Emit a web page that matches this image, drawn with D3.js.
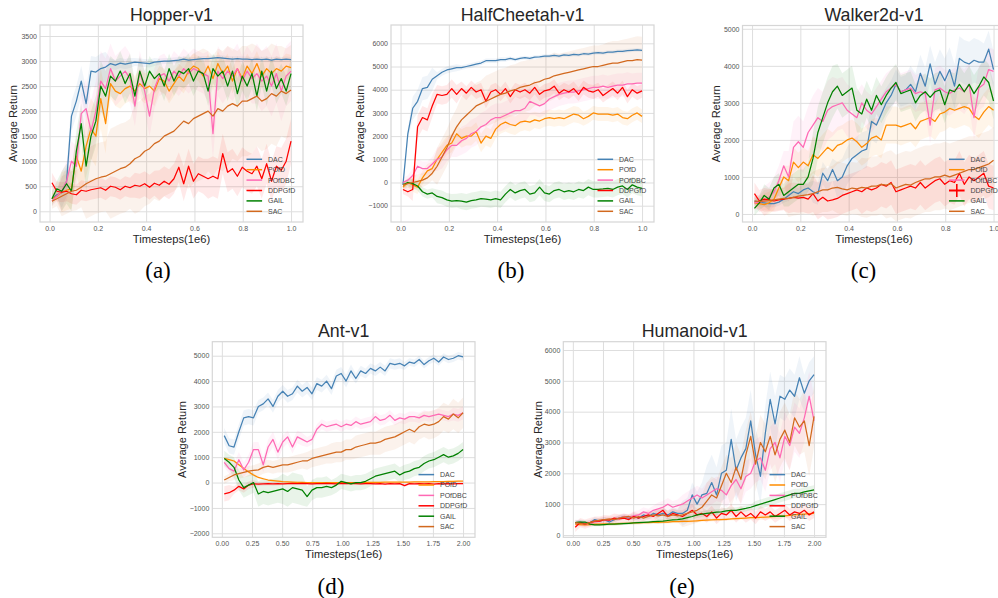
<!DOCTYPE html>
<html><head><meta charset="utf-8">
<script src="https://cdn.jsdelivr.net/npm/d3@7"></script>
<style>body{margin:0;background:#fff} svg{display:block}</style>
</head><body>
<svg id="chart" width="998" height="598"></svg>
<script>
// ---------- categories / ticks ----------
const methods = ["DAC", "POfD", "POfDBC", "DDPGfD", "GAIL", "SAC"];
const methodColors = ["#4682b4", "#ff8c00", "#ff69b4", "#ff0000", "#008000", "#d2691e"];
const xTicks1M = [0, 0.2, 0.4, 0.6, 0.8, 1.0];
const xTicks2M = [0, 0.25, 0.5, 0.75, 1.0, 1.25, 1.5, 1.75, 2.0];
const hopperYTicks = [0, 500, 1000, 1500, 2000, 2500, 3000, 3500];
const cheetahYTicks = [-1000, 0, 1000, 2000, 3000, 4000, 5000, 6000];
const walkerYTicks = [0, 1000, 2000, 3000, 4000, 5000];
const antYTicks = [-2000, -1000, 0, 1000, 2000, 3000, 4000, 5000];
const humanoidYTicks = [0, 1000, 2000, 3000, 4000, 5000, 6000];

// ---------- Hopper-v1 (mean returns, 0.01 .. 1.0 ×1e6) ----------
const hopper_DAC = [250,330,370,600,1900,2200,2600,2150,2800,2780,2850,2880,2950,2920,2960,2940,2960,2980,2970,2960,2950,2980,2990,3000,3000,3010,3020,3040,3020,3030,3040,3050,3050,3060,3070,3060,3050,3040,3050,3040,3040,3030,3040,3030,3040,3020,3040,3030,3040,3030];
const hopper_POfD = [250,300,380,420,450,1100,800,1300,1650,1500,2250,1750,2550,2400,2350,2450,2500,2400,2550,2450,2500,2400,2650,2600,2400,2550,2700,2600,2800,2900,2850,2700,2900,2650,2950,2750,2900,2600,2850,2650,2900,2750,2950,2700,2850,2750,2850,2800,2900,2870];
const hopper_POfDBC = [200,300,400,600,1000,900,1950,2050,1600,2000,2600,2450,2850,2600,2700,2800,2650,2100,2800,2400,1900,2450,2700,2750,2600,2800,2700,2850,2750,2850,2800,2750,2700,1550,2800,2650,2800,2700,2850,2600,2800,2650,2750,2600,2700,2500,2750,2400,2700,2800];
const hopper_DDPGfD = [570,400,380,400,350,330,420,400,430,450,470,420,500,480,430,500,470,520,500,550,480,560,520,600,540,650,880,550,900,600,750,700,650,700,650,1150,780,850,700,880,800,750,900,650,950,600,900,820,1000,1400];
const hopper_GAIL = [250,450,400,550,400,1200,1750,900,1500,1800,2500,2300,2700,2600,2800,2550,2750,2300,2800,2500,2800,2650,2750,2500,2850,2600,2800,2750,2850,2600,2800,2750,2400,2850,2700,2800,2500,2800,2350,2700,2500,2750,2300,2800,2400,2800,2450,2650,2400,2750];
const hopper_SAC = [200,250,300,350,400,420,480,550,600,650,680,700,750,800,850,880,950,1050,1100,1200,1250,1350,1400,1500,1550,1600,1700,1800,1750,1850,1900,1950,2000,1900,2050,2000,2100,2150,2100,2200,2200,2250,2300,2200,2250,2350,2300,2400,2350,2420];
// spread (half band width) read at every tenth of the x range
const hopper_DAC_sd = [50,300,300,100,80,60,50,50,50,50,50];
const hopper_POfD_sd = [100,400,600,300,300,250,250,250,250,250,250];
const hopper_POfDBC_sd = [100,400,600,500,400,400,400,500,500,600,600];
const hopper_DDPGfD_sd = [200,200,200,200,250,300,350,400,400,400,450];
const hopper_GAIL_sd = [150,400,500,400,300,300,300,300,300,300,300];
const hopper_SAC_sd = [150,400,700,900,1100,1200,1300,1200,1100,1000,900];

// ---------- HalfCheetah-v1 ----------
const cheetah_DAC = [-100,2100,3200,3500,4050,4100,4450,4600,4750,4850,4900,4950,4950,5000,5050,5100,5150,5250,5250,5250,5300,5300,5350,5300,5350,5380,5350,5400,5420,5450,5450,5480,5450,5500,5480,5520,5500,5550,5530,5580,5600,5580,5620,5620,5650,5650,5680,5700,5720,5700];
const cheetah_POfD = [-200,0,-100,-200,200,500,600,1000,1300,1600,1700,2100,1900,2000,2000,2200,1700,2000,1900,2300,2500,2600,2500,2450,2600,2650,2600,2700,2650,2750,2800,2750,2800,2750,2850,2950,2900,2750,2850,3000,2950,2950,2950,2900,2950,2800,2750,2900,3000,2850];
const cheetah_POfDBC = [0,100,300,700,600,600,800,1000,1100,1400,1600,1600,1800,1900,2100,2200,2400,2500,2700,2800,2800,2900,3000,3100,3100,3200,3500,3400,3300,3400,3600,3700,3800,3850,3900,3900,3950,4000,4050,4100,4100,4150,4100,4150,4200,4200,4250,4250,4280,4280];
const cheetah_DDPGfD = [-300,-400,-300,2400,2800,2700,3300,3800,3750,3800,4050,3800,4050,3850,4100,3900,4000,3500,3900,4000,3800,4050,3700,4000,3900,4000,3850,4100,3800,3950,4000,4150,3850,4000,3900,4050,3800,4100,3950,3900,4000,3750,3900,4050,3850,4100,3700,4000,3850,3950];
const cheetah_GAIL = [-100,0,-50,-150,-400,-500,-450,-600,-650,-750,-800,-780,-800,-850,-780,-750,-700,-720,-750,-700,-750,-500,-300,-450,-350,-300,-500,-450,-200,-450,-500,-350,-300,-400,-350,-400,-300,-350,-200,-300,-300,-280,-250,-300,-200,-150,-300,-100,-200,-250];
const cheetah_SAC = [-100,-50,0,50,100,200,400,700,1100,1500,2000,2400,2700,2900,3100,3300,3400,3500,3600,3700,3800,3850,3950,4000,4100,4150,4200,4300,4350,4450,4500,4600,4650,4700,4750,4800,4850,4900,4950,5000,5000,5050,5100,5150,5150,5200,5250,5250,5300,5280];
const cheetah_DAC_sd = [200,500,150,100,100,80,80,80,80,80,80];
const cheetah_POfD_sd = [200,300,400,400,400,400,350,350,300,300,300];
const cheetah_POfDBC_sd = [200,300,500,600,600,600,500,500,500,500,450];
const cheetah_DDPGfD_sd = [200,500,400,300,300,300,300,300,300,300,300];
const cheetah_GAIL_sd = [150,200,300,350,350,350,350,350,350,350,350];
const cheetah_SAC_sd = [150,300,800,1000,1100,1100,1000,900,900,950,1000];

// ---------- Walker2d-v1 ----------
const walker_DAC = [350,320,300,280,280,320,400,500,600,550,650,700,600,550,1100,900,1200,900,1000,1300,1500,1600,1700,1750,2500,2400,2700,3000,3200,3500,3300,3350,3500,3300,3800,3450,4050,3500,3850,3600,3900,3450,4200,4100,4050,4150,4100,4100,4450,3900];
const walker_POfD = [300,280,250,300,400,700,1000,900,1400,1250,1400,1300,1600,1500,1650,1800,1700,1850,1900,2000,2050,1950,1800,1900,2050,2100,2000,2400,2400,2400,2350,2400,2450,2300,2500,2550,2600,2500,2700,2750,2850,2800,2850,2900,2850,2650,2550,2750,2900,2800];
const walker_POfDBC = [300,320,350,450,600,900,1300,1000,1800,1950,1800,2200,2400,2600,2500,2800,2900,2950,3000,2800,2700,2600,3000,2800,2700,2900,3100,3300,3400,3500,3300,3350,3400,3250,3300,3250,2400,3350,3400,3300,3250,3350,3400,3300,3500,2600,3400,3500,3900,3850];
const walker_DDPGfD = [550,350,400,380,350,380,400,420,450,430,450,400,550,350,450,350,380,420,500,550,600,650,600,700,650,700,800,750,850,600,650,700,750,700,850,700,800,900,950,800,900,850,1100,800,1000,900,1000,1100,750,700];
const walker_GAIL = [150,300,500,400,700,800,500,600,700,800,800,1000,1500,2200,2600,3000,3300,3450,3200,3300,3400,2800,2700,3100,2800,3200,2950,3200,3400,3550,3250,3300,3350,3000,3200,3300,3150,3300,3350,2950,3350,3300,3500,3300,3500,3250,3450,3700,3550,3050];
const walker_SAC = [350,340,350,360,380,400,420,420,450,480,500,520,550,600,650,650,700,720,680,650,700,680,720,700,750,750,800,780,820,700,750,800,780,850,900,950,950,1000,1000,1050,1000,1050,1100,1150,1200,1200,1250,1300,1350,1450];
const walker_DAC_sd = [100,100,150,300,500,500,400,500,600,600,500];
const walker_POfD_sd = [150,300,400,500,500,500,500,500,500,500,500];
const walker_POfDBC_sd = [200,400,700,800,700,500,500,500,600,600,600];
const walker_DDPGfD_sd = [300,300,400,500,500,600,600,600,600,600,600];
const walker_GAIL_sd = [200,300,400,700,600,500,500,500,500,500,500];
const walker_SAC_sd = [150,300,500,600,700,800,900,900,900,900,900];

// ---------- Ant-v1 (0.02 .. 2.0 ×1e6) ----------
const ant_DAC = [1850,1450,1400,2000,2550,2600,2550,3000,3100,3300,3000,3400,3600,3400,3500,3800,3600,3750,3500,3900,3800,4000,3700,4200,4300,4000,4400,4100,4400,4300,4500,4400,4550,4400,4700,4650,4700,4600,4750,4700,4850,4650,4800,4900,4750,4950,4850,4900,5000,4950];
const ant_POfD = [950,900,850,700,550,420,300,200,150,100,80,60,40,30,20,10,10,0,0,0,0,0,0,0,0,0,0,0,0,10,10,10,10,20,20,20,20,20,20,30,30,30,30,40,40,40,50,50,60,60];
const ant_POfDBC = [800,550,450,900,500,800,1300,1300,700,1400,1700,1200,1600,1800,1400,1800,1700,1600,1700,2100,2300,2200,2250,2300,2200,2300,2250,2400,2300,2350,2400,2600,2450,2500,2650,2450,2550,2500,2600,2600,2550,2650,2600,2650,2700,2650,2600,2700,2650,2750];
const ant_DDPGfD = [-450,-400,-300,-150,-250,-100,-50,-60,-50,-40,-50,-40,-50,-40,-30,-40,-30,-40,-50,-40,-40,-30,-40,-50,-30,-40,-30,-40,-50,-40,-40,-50,-40,-60,-40,-50,-40,-120,-40,-50,-40,-50,-40,-60,-40,-50,-40,-50,-40,-40];
const ant_GAIL = [950,800,600,100,-200,-100,0,-450,-350,-400,-350,-300,-250,-350,-200,-250,-300,-550,-300,-200,-200,-150,-200,-100,50,0,-50,0,0,50,150,250,300,350,400,450,300,400,450,550,600,750,850,900,1000,1100,1000,1050,1150,1300];
const ant_SAC = [100,200,300,350,400,450,480,500,600,650,600,650,700,700,750,800,850,850,950,1000,1050,1100,1150,1200,1200,1300,1300,1400,1450,1500,1550,1550,1600,1700,1750,1800,1900,2000,2100,2000,2200,2300,2250,2300,2400,2600,2500,2700,2550,2750];
const ant_DAC_sd = [300,300,250,250,250,250,200,200,150,150,150];
const ant_POfD_sd = [50,50,50,30,30,30,30,30,30,30,30];
const ant_POfDBC_sd = [200,300,300,250,200,200,200,200,200,200,250];
const ant_DDPGfD_sd = [300,150,80,50,50,50,50,50,50,50,50];
const ant_GAIL_sd = [300,400,500,600,400,300,300,300,300,300,300];
const ant_SAC_sd = [150,200,250,300,350,400,450,500,500,550,600];

// ---------- Humanoid-v1 ----------
const humanoid_DAC = [400,420,380,400,500,450,500,420,500,550,600,550,600,550,650,600,700,650,700,650,750,700,700,800,1300,1000,1300,1350,1700,1300,2000,2100,3100,2100,2500,2800,3700,2600,1900,3300,4400,3600,4500,4400,4700,4500,5100,4600,5000,5200];
const humanoid_POfD = [350,340,330,340,350,350,360,350,360,370,380,380,390,390,400,400,410,410,420,420,430,430,440,440,450,460,470,480,490,500,500,510,520,530,540,550,560,560,570,580,590,600,610,620,640,650,670,680,690,700];
const humanoid_POfDBC = [400,380,350,380,420,450,500,480,520,550,600,580,620,650,750,700,800,850,900,1000,900,950,1000,1100,1200,1300,1200,1300,1400,1500,1450,1300,1600,1800,1500,1900,2000,2400,2500,2100,2800,3000,2500,3200,2900,3500,3300,3800,4500,3700];
const humanoid_DDPGfD = [250,400,350,400,450,450,500,480,550,520,550,500,600,550,600,650,600,700,800,600,700,650,600,700,800,650,700,600,750,550,700,650,800,600,750,600,700,550,750,650,750,600,700,800,650,750,700,800,650,750];
const humanoid_GAIL = [400,420,420,350,330,330,340,350,350,360,370,380,390,400,410,420,430,440,450,470,490,500,520,560,600,650,680,700,720,740,750,780,800,800,830,860,900,950,1000,1050,1100,1150,1200,1250,1300,1350,1350,1400,1430,1460];
const humanoid_SAC = [400,380,350,400,450,480,500,520,500,550,580,600,550,600,550,600,650,620,650,600,650,620,650,700,750,800,900,1100,1300,1200,1600,2000,1700,2200,1800,2600,3200,2300,3000,2700,3200,2600,3100,3400,3000,3800,3500,3700,2900,3850];
const humanoid_DAC_sd = [80,80,80,100,150,400,900,1000,900,700,600];
const humanoid_POfD_sd = [50,50,50,50,50,50,50,50,80,80,80];
const humanoid_POfDBC_sd = [100,100,100,150,200,300,400,500,700,800,800];
const humanoid_DDPGfD_sd = [150,150,150,150,150,200,200,200,200,200,200];
const humanoid_GAIL_sd = [50,50,50,50,80,100,100,100,150,150,150];
const humanoid_SAC_sd = [80,80,80,100,200,400,600,800,900,900,1000];

// ---------- layout ----------
const panels = [
  {title: "Hopper-v1", tag: "(a)", left: 40, top: 25, w: 263, h: 197, xmax: 1, yDom: [-214, 3720],
   yTicks: hopperYTicks, xTicks: xTicks1M, xFmt: ".1f", yLabX: 16.5, tagX: 158, tagY: 277.5,
   mean: [hopper_DAC, hopper_POfD, hopper_POfDBC, hopper_DDPGfD, hopper_GAIL, hopper_SAC],
   sd: [hopper_DAC_sd, hopper_POfD_sd, hopper_POfDBC_sd, hopper_DDPGfD_sd, hopper_GAIL_sd, hopper_SAC_sd]},
  {title: "HalfCheetah-v1", tag: "(b)", left: 391, top: 25, w: 263, h: 197, xmax: 1, yDom: [-1703, 6789],
   yTicks: cheetahYTicks, xTicks: xTicks1M, xFmt: ".1f", yLabX: 363.5, tagX: 511, tagY: 277.5,
   mean: [cheetah_DAC, cheetah_POfD, cheetah_POfDBC, cheetah_DDPGfD, cheetah_GAIL, cheetah_SAC],
   sd: [cheetah_DAC_sd, cheetah_POfD_sd, cheetah_POfDBC_sd, cheetah_DDPGfD_sd, cheetah_GAIL_sd, cheetah_SAC_sd]},
  {title: "Walker2d-v1", tag: "(c)", left: 742.5, top: 25.5, w: 263, h: 196.5, xmax: 1, yDom: [-217, 5089],
   yTicks: walkerYTicks, xTicks: xTicks1M, xFmt: ".1f", yLabX: 720, tagX: 863.5, tagY: 277.5, plusMarker: true,
   mean: [walker_DAC, walker_POfD, walker_POfDBC, walker_DDPGfD, walker_GAIL, walker_SAC],
   sd: [walker_DAC_sd, walker_POfD_sd, walker_POfDBC_sd, walker_DDPGfD_sd, walker_GAIL_sd, walker_SAC_sd]},
  {title: "Ant-v1", tag: "(d)", left: 212.3, top: 341.7, w: 262.7, h: 195.6, xmax: 2, yDom: [-2158, 5552],
   yTicks: antYTicks, xTicks: xTicks2M, xFmt: ".2f", yLabX: 185.5, tagX: 331, tagY: 594,
   mean: [ant_DAC, ant_POfD, ant_POfDBC, ant_DDPGfD, ant_GAIL, ant_SAC],
   sd: [ant_DAC_sd, ant_POfD_sd, ant_POfDBC_sd, ant_DDPGfD_sd, ant_GAIL_sd, ant_SAC_sd]},
  {title: "Humanoid-v1", tag: "(e)", left: 563.3, top: 341.7, w: 262.7, h: 195.6, xmax: 2, yDom: [-75, 6269],
   yTicks: humanoidYTicks, xTicks: xTicks2M, xFmt: ".2f", yLabX: 541.5, tagX: 682, tagY: 594,
   mean: [humanoid_DAC, humanoid_POfD, humanoid_POfDBC, humanoid_DDPGfD, humanoid_GAIL, humanoid_SAC],
   sd: [humanoid_DAC_sd, humanoid_POfD_sd, humanoid_POfDBC_sd, humanoid_DDPGfD_sd, humanoid_GAIL_sd, humanoid_SAC_sd]}
];

const SANS = "'Liberation Sans', Arial, Helvetica, sans-serif";
const SERIF = "'Liberation Serif', 'Times New Roman', serif";
const svg = d3.select("#chart");
const yFmt = d3.format("d");

panels.forEach((p, pi) => {
  const x0 = p.xmax === 1 ? 0.01 : 0.02;
  const xSpan = p.xmax - x0;
  const x = d3.scaleLinear().domain([x0 - 0.05 * xSpan, p.xmax + 0.05 * xSpan]).range([p.left, p.left + p.w]);
  const y = d3.scaleLinear().domain(p.yDom).range([p.top + p.h, p.top]);
  const g = svg.append("g");

  g.append("rect").attr("x", p.left).attr("y", p.top).attr("width", p.w).attr("height", p.h).attr("fill", "#fff");

  const ya = g.append("g").attr("transform", `translate(${p.left},0)`)
    .call(d3.axisLeft(y).tickValues(p.yTicks).tickSize(-p.w).tickPadding(3).tickFormat(yFmt));
  const xa = g.append("g").attr("transform", `translate(0,${p.top + p.h})`)
    .call(d3.axisBottom(x).tickValues(p.xTicks).tickSize(-p.h).tickPadding(4).tickFormat(d3.format(p.xFmt)));
  [ya, xa].forEach(a => {
    a.select(".domain").remove();
    a.selectAll(".tick line").attr("stroke", "#dedede").attr("stroke-width", 1);
    a.selectAll(".tick text").attr("fill", "#555").style("font-family", SANS).style("font-size", "7px");
  });

  const cid = "clip" + pi;
  svg.append("clipPath").attr("id", cid).append("rect")
    .attr("x", p.left).attr("y", p.top).attr("width", p.w).attr("height", p.h);
  const plot = g.append("g").attr("clip-path", `url(#${cid})`);

  const tOf = (arr, i) => x0 + i * xSpan / (arr.length - 1);
  const sdAt = (sdArr, t) => sdArr[Math.round(t / p.xmax * (sdArr.length - 1))];

  p.mean.forEach((arr, si) => {
    const pts = arr.map((v, i) => { const t = tOf(arr, i); const s = sdAt(p.sd[si], t); return {t, lo: v - s, hi: v + s}; });
    plot.append("path").datum(pts)
      .attr("d", d3.area().x(d => x(d.t)).y0(d => y(d.lo)).y1(d => y(d.hi)))
      .attr("fill", methodColors[si]).attr("fill-opacity", 0.085).attr("stroke", "none");
  });
  p.mean.forEach((arr, si) => {
    const pts = arr.map((v, i) => ({t: tOf(arr, i), v}));
    plot.append("path").datum(pts)
      .attr("d", d3.line().x(d => x(d.t)).y(d => y(d.v)))
      .attr("fill", "none").attr("stroke", methodColors[si]).attr("stroke-width", 1.25)
      .attr("stroke-linejoin", "round");
  });

  g.append("rect").attr("x", p.left).attr("y", p.top).attr("width", p.w).attr("height", p.h)
    .attr("fill", "none").attr("stroke", "#d6d6d6").attr("stroke-width", 1.2);

  const lx = p.left + p.w - 56.5;
  const ly0 = p.top + p.h - 62.7;
  methods.forEach((m, si) => {
    const yy = ly0 + si * 10.4;
    const special = p.plusMarker && m === "DDPGfD";
    g.append("line").attr("x1", lx).attr("x2", lx + 15.6).attr("y1", yy).attr("y2", yy)
      .attr("stroke", methodColors[si]).attr("stroke-width", special ? 2 : 1.5);
    if (special) {
      const cx = lx + 7.8;
      g.append("line").attr("x1", cx).attr("x2", cx).attr("y1", yy - 6.5).attr("y2", yy + 6.5)
        .attr("stroke", methodColors[si]).attr("stroke-width", 1.6);
    }
    g.append("text").attr("x", lx + 21.5).attr("y", yy).attr("dy", "0.35em")
      .attr("fill", "#444").style("font-family", SANS).style("font-size", "7px").text(m);
  });

  const cx = p.left + p.w / 2;
  g.append("text").attr("x", cx).attr("y", p.top - 4.3).attr("text-anchor", "middle")
    .attr("fill", "#262626").style("font-family", SANS).style("font-size", "17.8px").text(p.title);
  g.append("text").attr("x", cx).attr("y", p.top + p.h + 20.7).attr("text-anchor", "middle")
    .attr("fill", "#262626").style("font-family", SANS).style("font-size", "11.2px").text("Timesteps(1e6)");
  g.append("text").attr("transform", `translate(${p.yLabX},${p.top + p.h / 2}) rotate(-90)`)
    .attr("text-anchor", "middle").attr("fill", "#262626").style("font-family", SANS).style("font-size", "11px")
    .text("Average Return");
  g.append("text").attr("x", p.tagX).attr("y", p.tagY).attr("text-anchor", "middle")
    .attr("fill", "#000").style("font-family", SERIF).style("font-size", "23px").text(p.tag);
});
</script>
</body></html>
